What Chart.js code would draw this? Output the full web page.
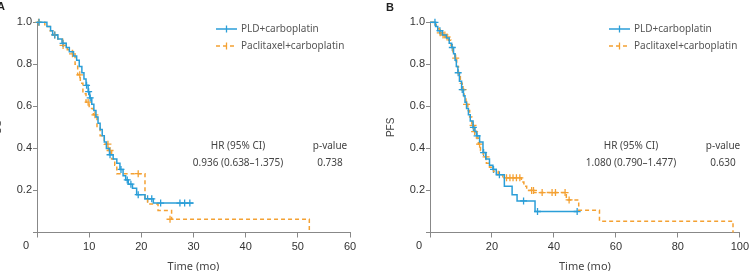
<!DOCTYPE html>
<html>
<head>
<meta charset="utf-8">
<script src="https://cdn.jsdelivr.net/npm/chart.js@4"></script>
<style>
body{margin:0;width:752px;height:271px;overflow:hidden;background:#fff;position:relative}
canvas{position:absolute;top:0}
#chartA{left:-8px}
#chartB{left:385px}
.tag{position:absolute;font:bold 11px "Liberation Sans",Arial,sans-serif;color:#222}
</style>
</head>
<body>
<canvas id="chartA" width="378" height="273"></canvas>
<canvas id="chartB" width="367" height="273"></canvas>
<div class="tag" style="left:-3px;top:0px">A</div>
<div class="tag" style="left:386px;top:1px">B</div>
<script>
// OS (panel A)
var osPldTime = [0, 1.9, 2.6, 3.0, 4.0, 4.8, 5.6, 6.2, 7.0, 7.6, 8.1, 8.6, 9.0, 9.4, 9.8, 10.1, 10.5, 10.9, 11.3, 11.7, 12.1, 12.5, 12.9, 13.3, 13.9, 14.6, 15.3, 15.9, 16.5, 17.0, 17.5, 18.3, 19.1, 20.7, 22.3, 30.0]
var osPldSurv = [1.0, 0.98, 0.96, 0.94, 0.92, 0.90, 0.88, 0.86, 0.84, 0.82, 0.79, 0.76, 0.73, 0.70, 0.67, 0.64, 0.61, 0.58, 0.55, 0.52, 0.49, 0.46, 0.43, 0.40, 0.37, 0.35, 0.33, 0.30, 0.27, 0.25, 0.23, 0.21, 0.18, 0.16, 0.14, 0.14]
var osPldCensTime = [0.4, 3.4, 5.0, 9.5, 9.9, 10.2, 14.0, 16.1, 17.3, 18.0, 19.4, 21.2, 22.0, 23.7, 27.4, 28.3, 29.3]
var osPldCensSurv = [1.0, 0.94, 0.90, 0.70, 0.67, 0.64, 0.37, 0.30, 0.25, 0.23, 0.18, 0.16, 0.16, 0.14, 0.14, 0.14, 0.14]

var osPacTime = [0, 1.5, 2.5, 3.2, 4.0, 4.9, 5.8, 6.8, 7.3, 7.8, 8.3, 8.8, 9.4, 10.0, 10.8, 11.5, 12.1, 12.9, 13.7, 14.3, 14.9, 15.3, 20.7, 21.2, 23.2, 25.8, 52.2]
var osPacSurv = [1.0, 0.98, 0.96, 0.94, 0.92, 0.89, 0.87, 0.85, 0.80, 0.75, 0.71, 0.66, 0.62, 0.59, 0.56, 0.50, 0.46, 0.42, 0.39, 0.35, 0.32, 0.28, 0.16, 0.135, 0.105, 0.063, 0]
var osPacCensTime = [0.3, 3.4, 5.0, 6.8, 8.2, 9.8, 11.1, 13.6, 14.0, 19.4, 25.5]
var osPacCensSurv = [1.0, 0.94, 0.89, 0.85, 0.75, 0.62, 0.56, 0.42, 0.39, 0.28, 0.063]

// PFS (panel B)
var pfsPldTime = [0, 1.8, 2.5, 4.0, 5.3, 6.2, 7.0, 7.6, 8.1, 8.5, 9.0, 9.5, 10.2, 10.8, 11.3, 11.8, 12.4, 13.0, 13.9, 14.5, 15.0, 16.0, 17.1, 18.0, 19.2, 20.3, 21.4, 24.0, 26.5, 28.1, 33.9, 47.5]
var pfsPldSurv = [1.0, 0.98, 0.96, 0.94, 0.925, 0.90, 0.88, 0.85, 0.82, 0.79, 0.76, 0.72, 0.68, 0.65, 0.62, 0.59, 0.56, 0.53, 0.50, 0.48, 0.46, 0.43, 0.38, 0.35, 0.32, 0.30, 0.275, 0.22, 0.18, 0.15, 0.10, 0.10]
var pfsPldCensTime = [1.6, 3.2, 7.2, 9.1, 10.4, 14.0, 15.2, 17.3, 20.5, 22.4, 30.2, 34.7, 47.5]
var pfsPldCensSurv = [1.0, 0.96, 0.88, 0.76, 0.68, 0.50, 0.46, 0.38, 0.30, 0.275, 0.15, 0.10, 0.10]

var pfsPacTime = [0, 1.0, 2.0, 3.0, 4.0, 5.0, 6.0, 6.8, 7.4, 8.0, 8.6, 9.2, 9.8, 10.4, 11.0, 11.6, 12.2, 12.8, 13.5, 14.2, 15.0, 15.6, 16.3, 17.2, 18.2, 19.2, 20.5, 22.0, 23.5, 29.5, 30.3, 31.2, 33.5, 44.0, 48.0, 54.7, 97.8]
var pfsPacSurv = [1.0, 0.99, 0.97, 0.95, 0.94, 0.93, 0.915, 0.89, 0.86, 0.83, 0.79, 0.75, 0.71, 0.68, 0.64, 0.61, 0.58, 0.55, 0.51, 0.48, 0.45, 0.42, 0.39, 0.36, 0.33, 0.31, 0.29, 0.275, 0.26, 0.24, 0.22, 0.20, 0.19, 0.155, 0.106, 0.054, 0]
var pfsPacCensTime = [3.3, 4.2, 4.8, 5.5, 8.3, 10.7, 11.8, 13.9, 14.4, 16.0, 18.1, 24.7, 25.8, 26.8, 27.9, 29.0, 32.8, 33.4, 36.2, 39.4, 40.5, 43.6, 44.9]
var pfsPacCensSurv = [0.95, 0.94, 0.94, 0.93, 0.83, 0.68, 0.61, 0.51, 0.48, 0.42, 0.36, 0.26, 0.26, 0.26, 0.26, 0.26, 0.20, 0.20, 0.19, 0.19, 0.19, 0.19, 0.155]

var groupNames = ["PLD+carboplatin", "Paclitaxel+carboplatin"]
var yTicks = [0, 0.2, 0.4, 0.6, 0.8, 1.0]

var blue = "#2b9ed8"
var orange = "#f4a133"
var tickFont = '"Liberation Sans", Arial, sans-serif'
var textFont = '"Noto Sans", "Open Sans", sans-serif'

function pts(t, s){
    return t.map(function(v, i){ return {x: v, y: s[i]} })
}

function lineSet(label, t, s, color, dash){
    return {label: label, data: pts(t, s), borderColor: color, backgroundColor: color,
        borderWidth: 1.5, borderDash: dash, stepped: "before", pointRadius: 0, clip: 4, kmLegend: true}
}

function censSet(t, s, color){
    return {data: pts(t, s), showLine: false, pointStyle: "cross", pointRadius: 3.5,
        pointBorderWidth: 1.3, borderColor: color, backgroundColor: color, clip: 6}
}

var kmExtras = {
    id: "kmExtras",
    afterDraw: function(chart, args, opts){
        var ctx = chart.ctx
        var a = chart.chartArea
        ctx.save()
        // shared origin label
        ctx.font = "11px " + tickFont
        ctx.fillStyle = "#333"
        ctx.textAlign = "center"
        ctx.textBaseline = "middle"
        ctx.fillText("0", a.left - 11, a.bottom + 13)

        // legend
        var sets = chart.data.datasets.filter(function(d){ return d.kmLegend })
        ctx.font = "10px " + textFont
        ctx.textAlign = "left"
        sets.forEach(function(d, i){
            var x0 = a.left + 179
            var y = 29 + i * 17
            ctx.strokeStyle = d.borderColor
            ctx.lineWidth = 1.5
            ctx.setLineDash(d.borderDash || [])
            ctx.beginPath()
            ctx.moveTo(x0, y)
            ctx.lineTo(x0 + 21, y)
            ctx.stroke()
            ctx.setLineDash([])
            ctx.lineWidth = 1.3
            ctx.beginPath()
            ctx.moveTo(x0 + 10.5, y - 3.5)
            ctx.lineTo(x0 + 10.5, y + 3.5)
            ctx.stroke()
            ctx.fillStyle = "#555"
            ctx.fillText(d.label, x0 + 25, y)
        })

        // HR table
        ctx.textAlign = "center"
        ctx.fillStyle = "#444"
        ctx.fillText("HR (95% CI)", a.left + 201, 146)
        ctx.fillText(opts.hr, a.left + 201, 163)
        ctx.fillText("p-value", a.left + 293, 146)
        ctx.fillText(opts.p, a.left + 293, 163)
        ctx.restore()
    }
}

function makeChart(id, datasets, yTitle, xMax, xStep, hr, p, padRight){
    return new Chart(id, {
        type: "line",
        data: {datasets: datasets},
        plugins: [kmExtras],
        options: {
            responsive: false,
            animation: false,
            layout: {padding: {top: 22.3, right: padRight, left: 0, bottom: 0}},
            plugins: {
                legend: {display: false},
                tooltip: {enabled: false},
                kmExtras: {hr: hr, p: p}
            },
            scales: {
                x: {
                    type: "linear", min: 0, max: xMax,
                    ticks: {stepSize: xStep, color: "#333", padding: 3, font: {family: tickFont, size: 11},
                        callback: function(v){ return v === 0 ? "" : v }},
                    grid: {drawOnChartArea: false, tickLength: 5, color: "#888"},
                    border: {color: "#888"},
                    title: {display: true, text: "Time (mo)", color: "#444", padding: 0,
                        font: {family: textFont, size: 11}},
                    afterFit: function(s){ s.height = 40.5 }
                },
                y: {
                    min: 0, max: 1,
                    afterBuildTicks: function(s){ s.ticks = yTicks.map(function(v){ return {value: v} }) },
                    ticks: {color: "#333", padding: 1, font: {family: tickFont, size: 11},
                        callback: function(v){ return v === 0 ? "" : v.toFixed(1) }},
                    grid: {drawOnChartArea: false, tickLength: 4, color: "#888"},
                    border: {color: "#888"},
                    title: {display: true, text: yTitle, color: "#444", padding: 0,
                        font: {family: tickFont, size: 10}},
                    afterFit: function(s){ s.width = 45 }
                }
            }
        }
    })
}

makeChart("chartA", [
    lineSet(groupNames[0], osPldTime, osPldSurv, blue, []),
    lineSet(groupNames[1], osPacTime, osPacSurv, orange, [4, 3]),
    censSet(osPldCensTime, osPldCensSurv, blue),
    censSet(osPacCensTime, osPacCensSurv, orange)
], "OS", 60, 10, "0.936 (0.638\u20131.375)", "0.738", 20)

makeChart("chartB", [
    lineSet(groupNames[0], pfsPldTime, pfsPldSurv, blue, []),
    lineSet(groupNames[1], pfsPacTime, pfsPacSurv, orange, [4, 3]),
    censSet(pfsPldCensTime, pfsPldCensSurv, blue),
    censSet(pfsPacCensTime, pfsPacCensSurv, orange)
], "PFS", 100, 20, "1.080 (0.790\u20131.477)", "0.630", 10)
</script>
</body>
</html>
